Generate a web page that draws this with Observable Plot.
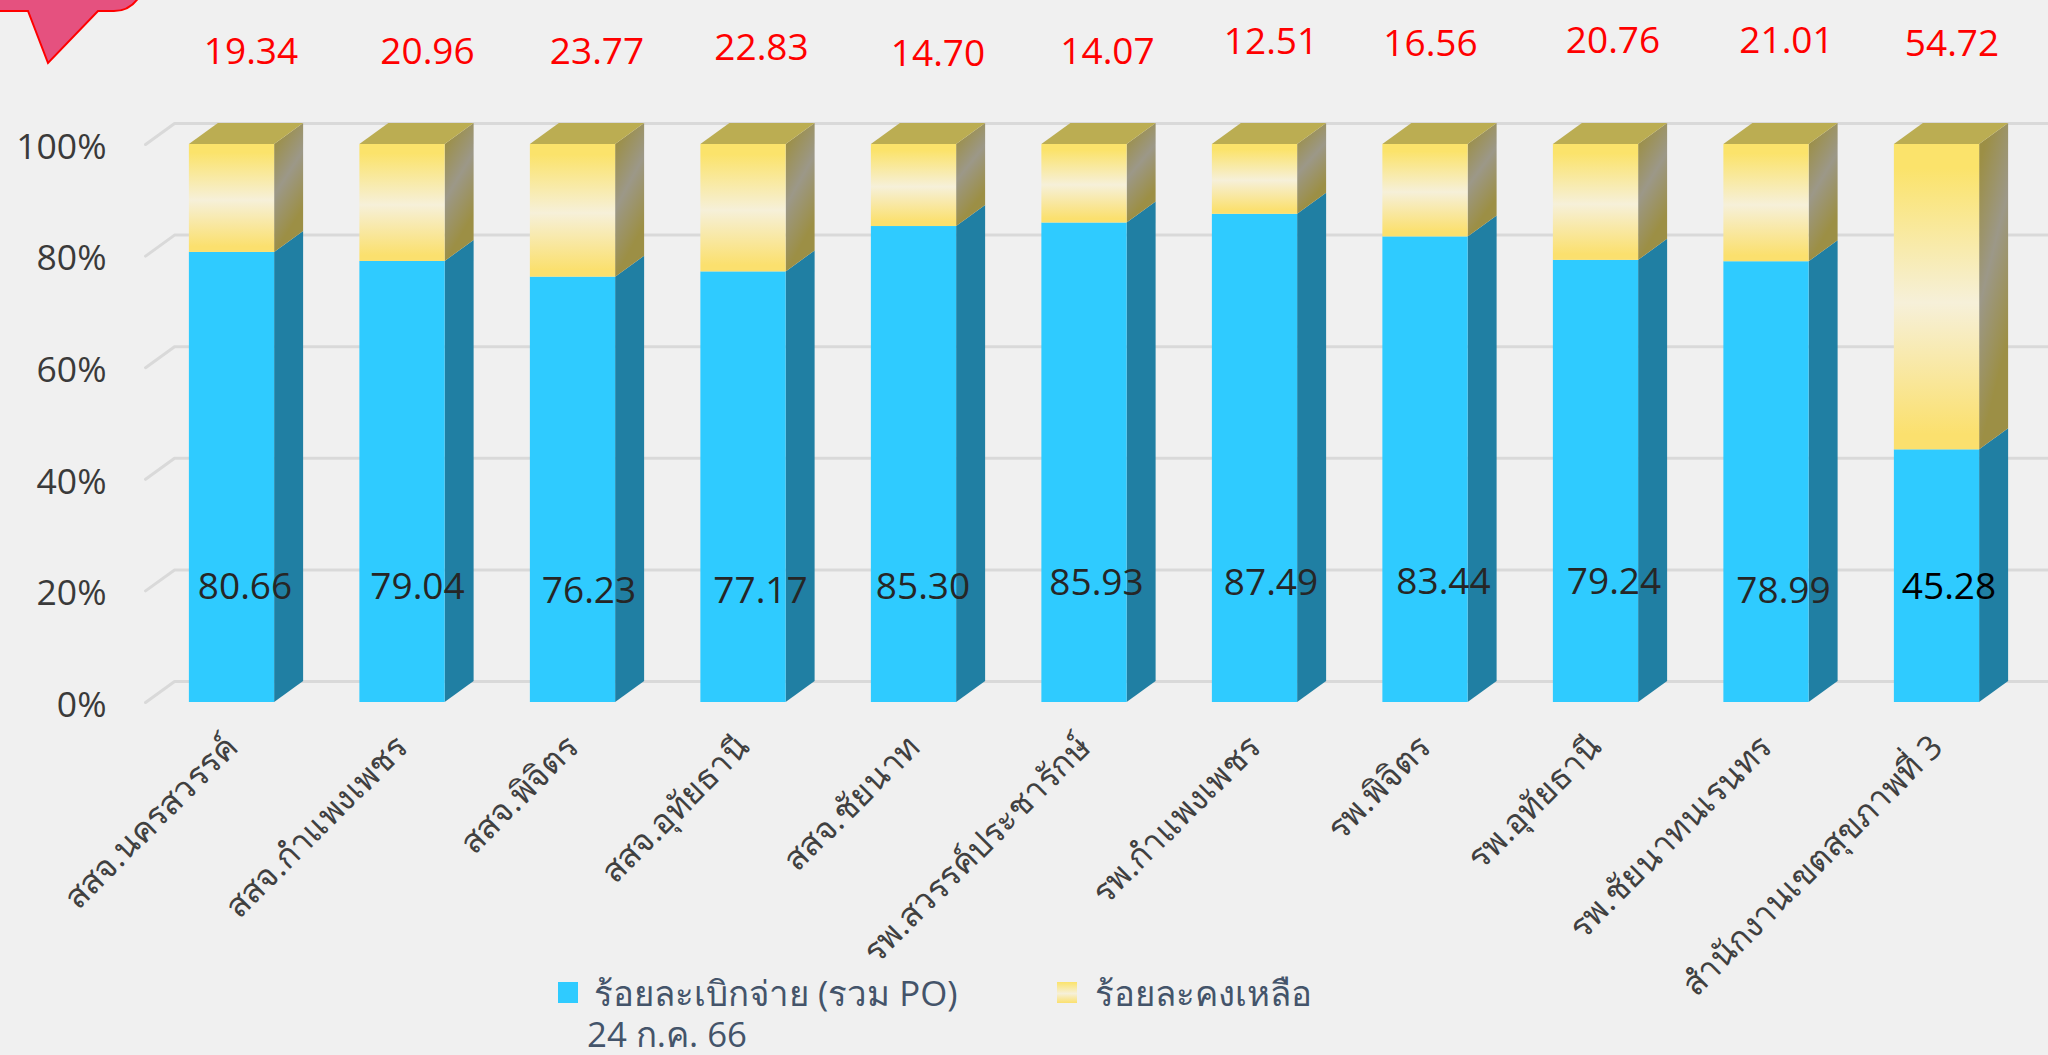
<!DOCTYPE html>
<html lang="th">
<head>
<meta charset="utf-8">
<script src="https://cdn.jsdelivr.net/npm/d3@7"></script>
<script src="https://cdn.jsdelivr.net/npm/@observablehq/plot@0.6"></script>
<style>
  html,body{margin:0;padding:0;background:#f0f0f0;overflow:hidden}
  body{position:relative;width:2048px;height:1055px;font-family:"Open Sans","Noto Sans",sans-serif}
  #chart{position:absolute;left:0;top:0}
  #callout{position:absolute;left:0;top:0}
  .legend{position:absolute;color:#44546a;font-size:34.8px;line-height:44px;white-space:nowrap}
  .swatch{position:absolute;width:20px;height:21px}
</style>
</head>
<body>
<div id="chart"></div>
<svg id="callout" width="160" height="70"><path d="M-5,11 L28,11 L48,63 L98,11 L114,11 Q130,11 139,-3 L-5,-3 Z" fill="#e5517f" stroke="#ff0000" stroke-width="2"/></svg>
<div class="swatch" style="left:558px;top:982px;background:#2fcbff"></div>
<div class="legend" style="left:594px;top:971px">ร้อยละเบิกจ่าย (รวม PO)</div>
<div class="legend" style="left:587px;top:1012px">24 ก.ค. 66</div>
<div class="swatch" style="left:1057px;top:982px;background:linear-gradient(#fbe36b,#f6f0d9 55%,#fbe06e)"></div>
<div class="legend" style="left:1095px;top:971px">ร้อยละคงเหลือ</div>
<script>
const categories = ["สสจ.นครสวรรค์","สสจ.กำแพงเพชร","สสจ.พิจิตร","สสจ.อุทัยธานี","สสจ.ชัยนาท","รพ.สวรรค์ประชารักษ์","รพ.กำแพงเพชร","รพ.พิจิตร","รพ.อุทัยธานี","รพ.ชัยนาทนเรนทร","สำนักงานเขตสุขภาพที่ 3"];
const paid = [80.66,79.04,76.23,77.17,85.30,85.93,87.49,83.44,79.24,78.99,45.28];
const remaining = [19.34,20.96,23.77,22.83,14.70,14.07,12.51,16.56,20.76,21.01,54.72];
const yTicks = [0,20,40,60,80,100];

// hand-placed label nudges in the original, in pixels, kept apart from the values
const paidNudgeX = [13,15,16,17,9,12,16,18,18,17,12];
const paidNudgeY = [-4,-4,0,0,-4,-8,-8,-9,-9,0,-4];
const remainNudgeX = [19,25,24,18,24,23,16,5,17,20,15];
const remainNudgeY = [-34,-34,-34,-38,-32,-34,-44,-42,-45,-45,-42];

const halfWidth = 0.25, depthX = 0.17, depthY = 3.76;
const font = '"Open Sans","Noto Sans",sans-serif';
const idx = categories.map((_, i) => i);

function sideRows(lo, hi) {
  return idx.flatMap(i => {
    const r = i + halfWidth;
    return [
      {k:i, x:r, y1:lo(i), y2:hi(i)},
      {k:i, x:r + depthX, y1:lo(i) + depthY, y2:hi(i) + depthY}
    ];
  });
}
const topRows = idx.flatMap(i => [
  {k:i, x1:i - halfWidth, x2:i + halfWidth, y:100},
  {k:i, x1:i - halfWidth + depthX, x2:i + halfWidth + depthX, y:100 + depthY}
]);
const xLeft = -0.507, xRight = 10.66;
const gridRows = yTicks.flatMap(t => [
  {t, x:xLeft, y:t},
  {t, x:xLeft + depthX, y:t + depthY},
  {t, x:xRight, y:t + depthY}
]);

function defs() {
  const d = d3.create("svg:defs");
  const grad = (id, x2, y2, stops) => {
    const g = d.append("linearGradient").attr("id", id).attr("x1",0).attr("y1",0).attr("x2",x2).attr("y2",y2);
    stops.forEach(([o,c]) => g.append("stop").attr("offset",o).attr("stop-color",c));
  };
  grad("frontY",0,1,[[0,"#fbe36b"],[.08,"#fbe36b"],[.52,"#f6f0d9"],[.95,"#fbe06e"],[1,"#fbe06e"]]);
  grad("sideY",0.35,1,[[0,"#9c8f45"],[.12,"#9c8f45"],[.5,"#9c9888"],[.9,"#9c8f45"],[1,"#9c8f45"]]);
  return d.node();
}

const chart = Plot.plot({
  width: 2048, height: 1055,
  marginLeft: 106, marginRight: 0, marginTop: 0, marginBottom: 347,
  style: {background:"#f0f0f0", fontFamily:font},
  x: {domain:[0,10], range:[231.5,1936.5], axis:null},
  y: {domain:[0,100], range:[702,144], axis:null},
  marks: [
    defs,
    Plot.line(gridRows, {x:"x", y:"y", z:"t", stroke:"#d9d9d9", strokeWidth:3}),
    Plot.area(sideRows(i => 0, i => paid[i]), {x1:"x", y1:"y1", y2:"y2", z:"k", fill:"#207fa3"}),
    Plot.area(sideRows(i => paid[i], i => 100), {x1:"x", y1:"y1", y2:"y2", z:"k", fill:"url(#sideY)"}),
    Plot.area(topRows, {x1:"x1", x2:"x2", y1:"y", y2:"y", z:"k", fill:"#bbad52"}),
    Plot.rect(idx, {x1:i => i - halfWidth, x2:i => i + halfWidth, y1:0, y2:i => paid[i], fill:"#2fcbff"}),
    Plot.rect(idx, {x1:i => i - halfWidth, x2:i => i + halfWidth, y1:i => paid[i], y2:100, fill:"url(#frontY)"}),
    Plot.axisY(yTicks, {tickSize:0, tickPadding:0, tickFormat:d => d + "%", fontSize:35.5, fill:"#3a3a3a", dy:3, label:null}),
    Plot.axisX(idx, {tickSize:0, tickPadding:14, tickRotate:-45, tickFormat:i => categories[i], fontSize:33.6, fill:"#404040", textAnchor:"end", label:null, dx:0, dy:19}),
    ...idx.map(i => Plot.text([paid[i]], {x:[i], y:[20], text:d => d.toFixed(2), fontSize:37, fill:i === 10 ? "#000" : "#262626", dx:paidNudgeX[i], dy:paidNudgeY[i]})),
    ...idx.map(i => Plot.text([remaining[i]], {x:[i], y:[110.5], text:d => d.toFixed(2), fontSize:37, fill:"#ff0000", dx:remainNudgeX[i], dy:remainNudgeY[i]}))
  ]
});
document.getElementById("chart").append(chart);
</script>
</body>
</html>
